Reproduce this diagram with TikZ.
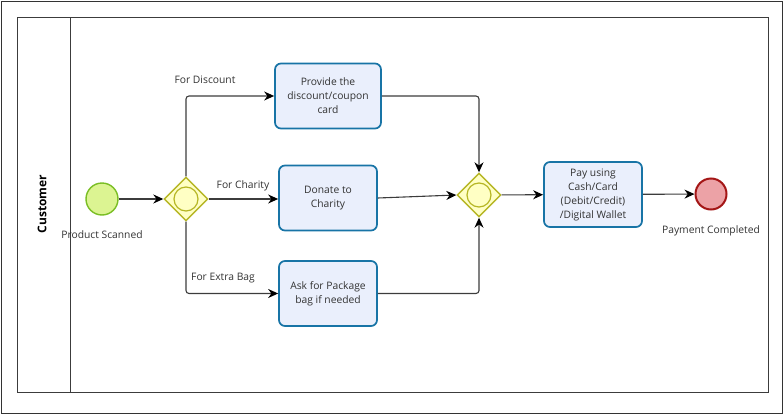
\documentclass[tikz,border=0pt]{standalone}
\usepackage{fontspec}
\setmainfont{Open Sans}
\usepackage{tikz}
\usetikzlibrary{positioning,arrows.meta,shapes.geometric}

\definecolor{taskfill}{RGB}{234,239,252}
\definecolor{taskline}{RGB}{24,116,166}
\definecolor{gwfill}{RGB}{255,255,196}
\definecolor{gwline}{RGB}{182,182,36}
\definecolor{startfill}{RGB}{220,244,146}
\definecolor{startline}{RGB}{122,190,36}
\definecolor{endfill}{RGB}{236,162,166}
\definecolor{endline}{RGB}{164,22,22}
\definecolor{flowline}{RGB}{60,60,60}
\definecolor{txt}{RGB}{50,50,50}

\begin{document}
\begin{tikzpicture}[x=1pt,y=-1pt,
  task/.style={draw=taskline, line width=1.7pt, fill=taskfill, rounded corners=6pt, minimum width=98pt, minimum height=65pt, align=center, text=txt, font=\fontsize{10.3}{14}\selectfont},
  gate/.style={draw=gwline, line width=1.4pt, fill=gwfill, diamond, aspect=1, minimum size=44pt, inner sep=0pt},
  gatering/.style={draw=gwline, line width=1.2pt, circle, minimum size=24pt, inner sep=0pt},
  startev/.style={draw=startline, line width=1.4pt, fill=startfill, circle, minimum size=32pt, inner sep=0pt},
  endev/.style={draw=endline, line width=2pt, fill=endfill, circle, minimum size=31pt, inner sep=0pt},
  flow/.style={draw=flowline, line width=1.1pt, rounded corners=3pt, -{Stealth[length=10pt,width=9pt,color=black]}},
  lbl/.style={text=txt, font=\fontsize{10.3}{12}\selectfont, inner sep=0pt},
]
\useasboundingbox (0,0) rectangle (784,415);
% --- frame and pool ---
\draw[line width=0.9pt, black!80] (1.5,1.5) rectangle (782,413);
\draw[line width=1pt, flowline] (17,17) rectangle (768,392);
\draw[line width=1pt, flowline] (70,17) -- (70,392);
\node[rotate=90, font=\fontsize{12}{14}\selectfont\bfseries] (lane) at (42,204) {Customer};
% --- events and gateways ---
\node[startev] (start) at (102,199) {};
\node[lbl] (startlbl) at (102,235) {Product Scanned};
\node[gate] (split) at (186,199) {};
\node[gatering] (splitring) at (186,199) {};
\node[gate] (join) at (479,195) {};
\node[gatering] (joinring) at (479,195) {};
\node[endev] (finish) at (711,194) {};
\node[lbl] (finishlbl) at (711,231) {Payment Completed};
% --- tasks ---
\node[task, minimum width=106pt] (discount) at (328,96) {Provide the\\discount/coupon\\card};
\node[task] (charity) at (328,198) {Donate to\\Charity};
\node[task] (bag) at (328,293.5) {Ask for Package\\bag if needed};
\node[task] (pay) at (593,194.5) {Pay using\\Cash/Card\\(Debit/Credit)\\/Digital Wallet};
% --- flows ---
\draw[flow] (start) -- (split);
\draw[flow] (split.north) |- (discount.west);
\draw[flow] (split.east) -- (charity.west |- split.east);
\draw[flow] (split.south) |- (bag.west);
\draw[flow] (discount.east) -| (join.north);
\draw[flow] (charity.east) -- (join.west);
\draw[flow] (bag.east) -| (join.south);
\draw[flow] (join) -- (pay);
\draw[flow] (pay) -- (finish);
\node[lbl] (l1) at (205,80) {For Discount};
\node[lbl] (l2) at (243,186) {For Charity};
\node[lbl] (l3) at (223,278) {For Extra Bag};
\end{tikzpicture}
\end{document}
